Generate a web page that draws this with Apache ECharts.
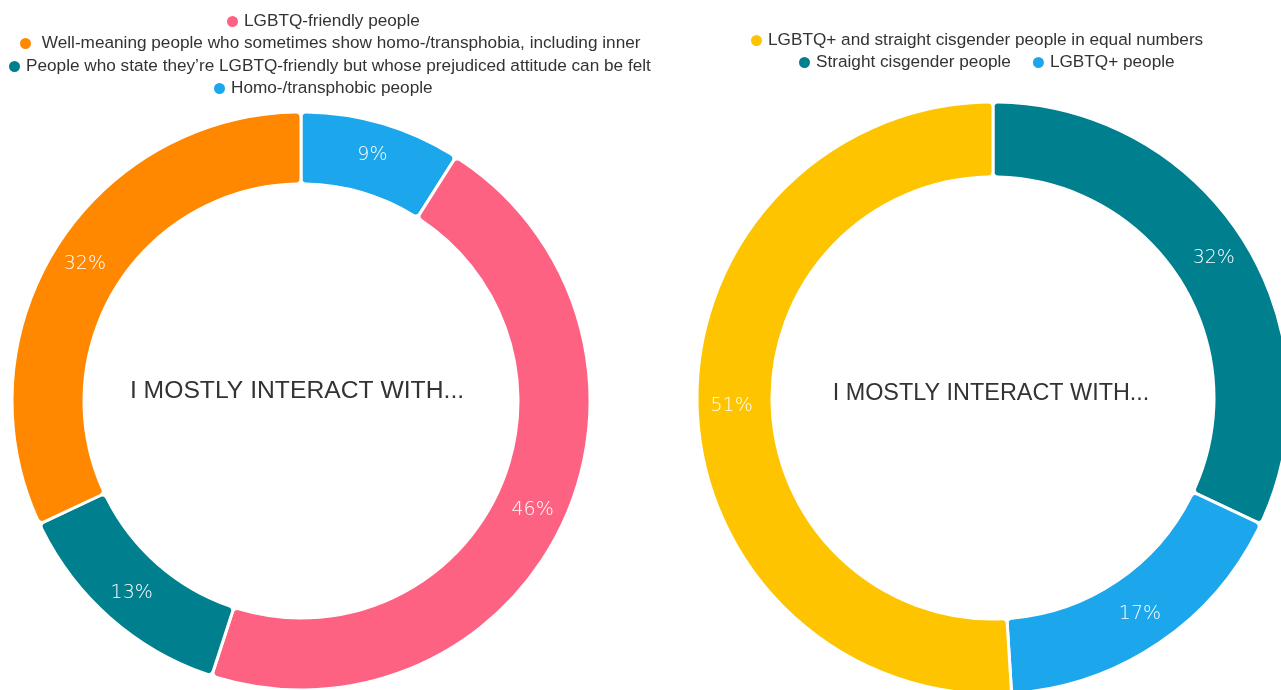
<!DOCTYPE html>
<html><head><meta charset="utf-8">
<script src="https://cdn.jsdelivr.net/npm/echarts@6/dist/echarts.min.js"></script>
<style>html,body{margin:0;padding:0;background:#fff}#c{width:1281px;height:690px}</style>
</head><body><div id="c"></div>
<script>
const leftCategories = ["Homo-/transphobic people", "LGBTQ-friendly people", "People who state they’re LGBTQ-friendly but whose prejudiced attitude can be felt", " Well-meaning people who sometimes show homo-/transphobia, including inner"];
const leftValues = [9, 46, 13, 32];
const leftColors = ["#1ca7ec", "#fe6283", "#007f8e", "#ff8800"];
const leftLegendOrder = [[1], [3], [2], [0]];

const rightCategories = ["Straight cisgender people", "LGBTQ+ people", "LGBTQ+ and straight cisgender people in equal numbers"];
const rightValues = [32, 17, 51];
const rightColors = ["#007f8e", "#1ca7ec", "#ffc400"];
const rightLegendOrder = [[2], [0, 1]];

const centerTitle = "I MOSTLY INTERACT WITH...";

const chart = echarts.init(document.getElementById('c'));
const legendBase = {
  orient: 'horizontal', icon: 'circle', itemWidth: 13, itemHeight: 13, itemGap: 20, padding: 0,
  textStyle: {fontFamily: 'Liberation Sans, Arial', fontSize: 17.2, color: '#333'},
  selectedMode: false
};
const leftLegendPos = [[225, 13], [18, 35], [7, 58], [212, 80]];
const rightLegendPos = [[749, 32], [797, 54]];
const legends = [];
leftLegendOrder.forEach((idxs, i) => legends.push(Object.assign({}, legendBase, {
  left: leftLegendPos[i][0], top: leftLegendPos[i][1], data: idxs.map(k => leftCategories[k])
})));
rightLegendOrder.forEach((idxs, i) => legends.push(Object.assign({}, legendBase, {
  left: rightLegendPos[i][0], top: rightLegendPos[i][1], data: idxs.map(k => rightCategories[k])
})));

function pie(cats, vals, cols, center, radius) {
  return {
    type: 'pie', center: center, radius: radius, startAngle: 90, clockwise: true,
    avoidLabelOverlap: false, silent: true,
    itemStyle: {borderColor: '#fff', borderWidth: 3, borderRadius: 5},
    label: {show: true, position: 'inside', formatter: '{c}%', color: '#fff',
      fontFamily: 'DejaVu Sans', fontWeight: 300, fontSize: 19},
    labelLine: {show: false},
    data: cats.map((n, i) => ({name: n, value: vals[i], itemStyle: {color: cols[i]}}))
  };
}

const titleBase = {fontFamily: 'Liberation Sans, Arial', fontWeight: 'normal', color: '#333'};
chart.setOption({
  animation: false,
  legend: legends,
  title: [
    {text: centerTitle, left: 297, top: 391, padding: 0, textAlign: 'center', textVerticalAlign: 'middle',
      textStyle: Object.assign({fontSize: 24.7}, titleBase)},
    {text: centerTitle, left: 991, top: 394, padding: 0, textAlign: 'center', textVerticalAlign: 'middle',
      textStyle: Object.assign({fontSize: 23.4}, titleBase)}
  ],
  series: [
    pie(leftCategories, leftValues, leftColors, [301, 401], [217, 289]),
    pie(rightCategories, rightValues, rightColors, [993, 398], [221, 296])
  ]
});
</script></body></html>
